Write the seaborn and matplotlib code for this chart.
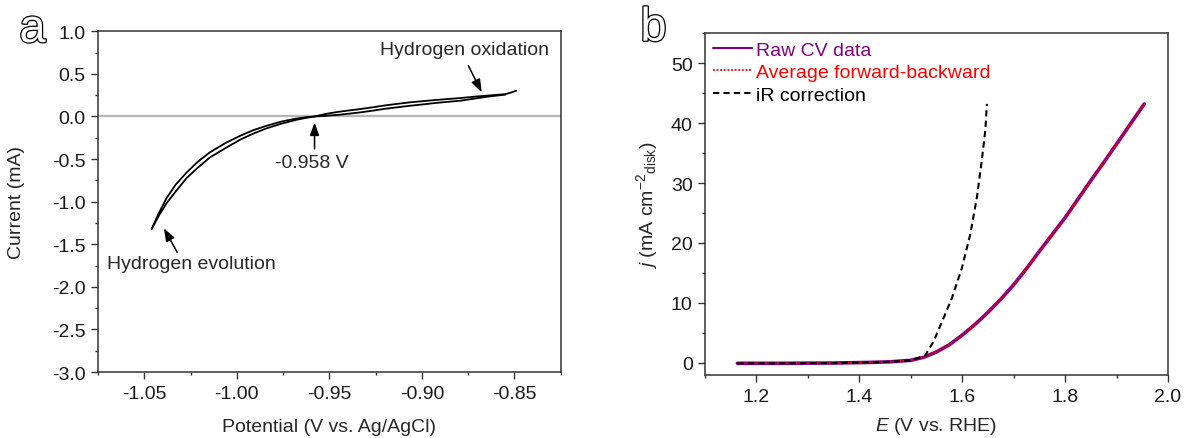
import numpy as np
import pandas as pd
import matplotlib
matplotlib.use("Agg")
import matplotlib.pyplot as plt
import matplotlib.patheffects as pe
from matplotlib.ticker import MultipleLocator, FormatStrFormatter
import seaborn as sns

# ---------------- data: panel a (CV, two sweeps) ----------------
pot_fwd = [-1.046, -1.042, -1.038, -1.033, -1.027, -1.021, -1.0145, -1.006, -0.998, -0.991,
           -0.984, -0.976, -0.968, -0.963, -0.958, -0.952, -0.945, -0.939, -0.933, -0.926,
           -0.920, -0.913, -0.906, -0.899, -0.893, -0.886, -0.879, -0.871, -0.863, -0.855, -0.852, -0.849]
cur_fwd = [-1.32, -1.13, -0.96, -0.80, -0.655, -0.53, -0.42, -0.31, -0.225, -0.16,
           -0.11, -0.06, -0.025, -0.01, 0.0, 0.03, 0.055, 0.072, 0.088, 0.11,
           0.13, 0.149, 0.167, 0.181, 0.193, 0.205, 0.217, 0.234, 0.248, 0.262, 0.28, 0.303]
pot_bwd = [-0.855, -0.863, -0.871, -0.879, -0.886, -0.893, -0.899, -0.906, -0.913, -0.920,
           -0.926, -0.933, -0.939, -0.945, -0.952, -0.958, -0.963, -0.968, -0.976, -0.984,
           -0.991, -0.998, -1.006, -1.0145, -1.021, -1.027, -1.033, -1.038, -1.042, -1.046]
cur_bwd = [0.256, 0.237, 0.212, 0.186, 0.172, 0.158, 0.143, 0.127, 0.109, 0.09,
           0.07, 0.049, 0.034, 0.02, 0.008, 0.0, -0.018, -0.04, -0.085, -0.14,
           -0.2, -0.27, -0.37, -0.48, -0.6, -0.72, -0.88, -1.02, -1.16, -1.32]

# ---------------- data: panel b (OER polarisation) ----------------
E_raw = [1.163, 1.25, 1.35, 1.42, 1.46, 1.50, 1.525, 1.55, 1.575, 1.60, 1.625, 1.65, 1.675,
         1.70, 1.725, 1.75, 1.775, 1.80, 1.825, 1.85, 1.875, 1.90, 1.925, 1.954]
j_raw = [-0.1, -0.1, -0.05, 0.05, 0.15, 0.4, 0.9, 1.8, 3.0, 4.6, 6.4, 8.4, 10.6,
         13.0, 15.7, 18.6, 21.4, 24.2, 27.3, 30.4, 33.4, 36.5, 39.6, 43.2]
E_avg = [1.163, 1.25, 1.35, 1.42, 1.46, 1.50, 1.525, 1.55, 1.575, 1.60, 1.625, 1.65, 1.675,
         1.70, 1.725, 1.75, 1.775, 1.80, 1.825, 1.85, 1.875, 1.90, 1.925, 1.954]
j_avg = [-0.1, -0.1, -0.05, 0.05, 0.15, 0.4, 0.9, 1.8, 3.0, 4.6, 6.4, 8.4, 10.6,
         13.0, 15.7, 18.6, 21.4, 24.2, 27.3, 30.4, 33.4, 36.5, 39.6, 43.2]
E_ir = [1.163, 1.25, 1.35, 1.42, 1.46, 1.50, 1.528, 1.544, 1.5605, 1.58, 1.5994, 1.6156,
        1.6286, 1.638, 1.645, 1.648]
j_ir = [-0.1, -0.1, -0.05, 0.05, 0.15, 0.4, 1.2, 3.5, 6.8, 10.8, 15.8, 21.4,
        27.6, 33.7, 38.8, 43.2]

series_labels = ["Raw CV data", "Average forward-backward", "iR correction"]
series_colors = ["#800080", "#ff0000", "#000000"]

# ---------------- style ----------------
sns.set_theme(style="ticks")
plt.rcParams.update({
    "font.family": ["Liberation Sans", "DejaVu Sans"],
    "font.size": 14,
    "axes.unicode_minus": False,
    "mathtext.fontset": "custom",
    "mathtext.rm": "Liberation Sans",
    "mathtext.it": "Liberation Sans:italic",
    "mathtext.bf": "Liberation Sans:bold",
    "axes.edgecolor": "#333333",
    "axes.linewidth": 1.1,
    "xtick.color": "#333333",
    "ytick.color": "#333333",
    "xtick.labelcolor": "#1a1a1a",
    "ytick.labelcolor": "#1a1a1a",
    "xtick.direction": "out",
    "ytick.direction": "out",
    "xtick.major.size": 4.8,
    "ytick.major.size": 4.8,
    "xtick.minor.size": 2.4,
    "ytick.minor.size": 2.4,
    "xtick.major.width": 1.0,
    "ytick.major.width": 1.0,
    "xtick.minor.width": 1.0,
    "ytick.minor.width": 1.0,
    "xtick.major.pad": 4.5,
    "ytick.major.pad": 4.0,
    "xtick.labelsize": 14,
    "ytick.labelsize": 14,
    "axes.labelsize": 14,
})

fig = plt.figure(figsize=(11.86, 4.39), dpi=100)
ax1 = fig.add_axes([0.0826, 0.1503, 0.3902, 0.7761])
ax2 = fig.add_axes([0.5944, 0.1442, 0.3904, 0.7778])

# ---------------- panel a ----------------
ax1.axhline(0, color="#b5b5b5", lw=1.6, zorder=1)
sns.lineplot(x=pot_fwd, y=cur_fwd, sort=False, estimator=None, color="black", lw=1.3, ax=ax1)
sns.lineplot(x=pot_bwd, y=cur_bwd, sort=False, estimator=None, color="black", lw=1.3, ax=ax1)
ax1.set_xlim(-1.075, -0.825)
ax1.set_ylim(-3.0, 1.0)
ax1.xaxis.set_major_locator(MultipleLocator(0.05))
ax1.xaxis.set_minor_locator(MultipleLocator(0.025))
ax1.yaxis.set_major_locator(MultipleLocator(0.5))
ax1.yaxis.set_minor_locator(MultipleLocator(0.25))
ax1.xaxis.set_major_formatter(FormatStrFormatter("%.2f"))
ax1.yaxis.set_major_formatter(FormatStrFormatter("%.1f"))
ax1.set_xlabel("Potential (V vs. Ag/AgCl)")
ax1.set_ylabel("Current (mA)")
ax1.xaxis.label.set_va("center")
ax1.yaxis.label.set_va("center")
ax1.xaxis.set_label_coords(0.5, -0.1585)
ax1.yaxis.set_label_coords(-0.175, 0.5)

arrow_kw = dict(arrowstyle="-|>,head_length=0.55,head_width=0.2", color="black", lw=1.1,
                shrinkA=0, shrinkB=0)
ax1.annotate("Hydrogen oxidation", xy=(-0.8677, 0.284), xytext=(-0.877, 0.792),
             ha="center", va="center", fontsize=14, arrowprops=None)
ax1.annotate("", xy=(-0.8677, 0.284), xytext=(-0.8749, 0.596), arrowprops=arrow_kw)
ax1.annotate("-0.958 V", xy=(-0.958, -0.07), xytext=(-0.9594, -0.538),
             ha="center", va="center", fontsize=14)
ax1.annotate("", xy=(-0.958, -0.07), xytext=(-0.958, -0.38), arrowprops=arrow_kw)
ax1.annotate("Hydrogen evolution", xy=(-1.0394, -1.312), xytext=(-1.0244, -1.731),
             ha="center", va="center", fontsize=14)
ax1.annotate("", xy=(-1.0394, -1.312), xytext=(-1.0322, -1.594), arrowprops=arrow_kw)

# ---------------- panel b ----------------
sns.lineplot(x=E_raw, y=j_raw, sort=False, estimator=None, color=series_colors[0], lw=2.6,
             ax=ax2, label=series_labels[0])
sns.lineplot(x=E_avg, y=j_avg, sort=False, estimator=None, color=series_colors[1], lw=1.1,
             linestyle=(0, (1, 1)), ax=ax2, label=series_labels[1])
sns.lineplot(x=E_ir, y=j_ir, sort=False, estimator=None, color=series_colors[2], lw=1.5,
             linestyle=(0, (3, 2)), ax=ax2, label=series_labels[2])
ax2.set_xlim(1.1, 2.0)
ax2.set_ylim(-2, 55)
ax2.xaxis.set_major_locator(MultipleLocator(0.2))
ax2.xaxis.set_minor_locator(MultipleLocator(0.1))
ax2.yaxis.set_major_locator(MultipleLocator(10))
ax2.yaxis.set_minor_locator(MultipleLocator(5))
ax2.xaxis.set_major_formatter(FormatStrFormatter("%.1f"))
ax2.yaxis.set_major_formatter(FormatStrFormatter("%d"))
ax2.set_xlabel(r"$E$ (V vs. RHE)")
ax2.set_ylabel(r"$j$ (mA cm$^{-2}$$_{\mathrm{disk}}$)")
ax2.xaxis.label.set_va("center")
ax2.yaxis.label.set_va("center")
ax2.xaxis.set_label_coords(0.5, -0.150)
ax2.yaxis.set_label_coords(-0.126, 0.5)

leg = ax2.legend(loc="upper left", bbox_to_anchor=(0.0, 1.0), frameon=False,
                 fontsize=14, handlelength=2.0, handletextpad=0.25, labelspacing=0.25,
                 borderaxespad=0.0, borderpad=0.4)
for txt, c in zip(leg.get_texts(), series_colors):
    txt.set_color(c)
leg.legend_handles[0].set_linewidth(1.5)
leg.legend_handles[1].set_linewidth(1.3)

for ax in (ax1, ax2):
    for s in ax.spines.values():
        s.set_visible(True)
    ax.tick_params(which="both", top=False, right=False)

# ---------------- panel letters (outlined) ----------------
outline = [pe.withStroke(linewidth=1.8, foreground="black")]
fig.text(0.0274, 0.902, "a", fontsize=34, color="white", ha="center", va="baseline",
         path_effects=outline)
fig.text(0.551, 0.905, "b", fontsize=34, color="white", ha="center", va="baseline",
         path_effects=outline)

fig.savefig("out.png", dpi=100)
